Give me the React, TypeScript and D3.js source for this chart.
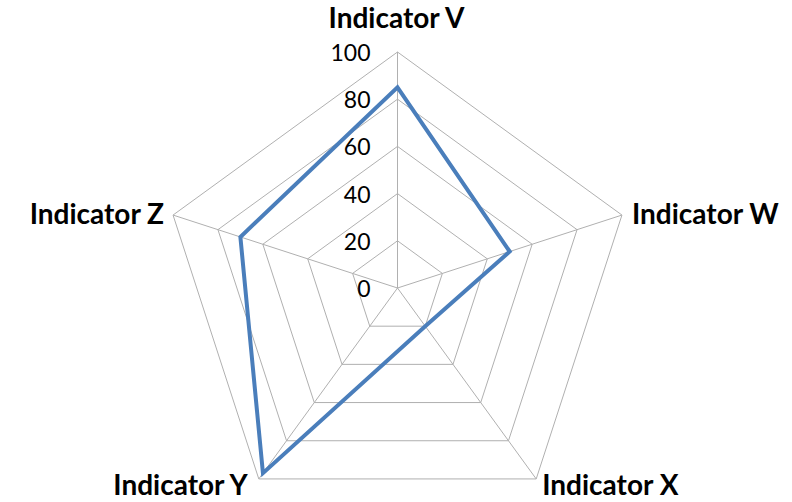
import React from "react";
import * as d3 from "d3";

const categories = ["Indicator V", "Indicator W", "Indicator X", "Indicator Y", "Indicator Z"];
const values = [85, 50, 20, 97, 70];
const ticks = [0, 20, 40, 60, 80, 100];

const W = 792;
const H = 502;
const cx = 397.5;
const cy = 288;
const R = 236;

export default function App() {
  const r = d3.scaleLinear().domain([0, 100]).range([0, R]);
  const angle = (i: number) => (i * 2 * Math.PI) / categories.length;
  const pt = (i: number, v: number): [number, number] => [
    cx + r(v) * Math.sin(angle(i)),
    cy - r(v) * Math.cos(angle(i)),
  ];
  const lineGen = d3.line<[number, number]>().curve(d3.curveLinearClosed);

  const gridPaths = ticks
    .filter((t) => t > 0)
    .map((t) => lineGen(categories.map((_, i) => pt(i, t))) as string);

  const dataPath = lineGen(values.map((v, i) => pt(i, v))) as string;

  const labelFont = "Lato, 'Open Sans', sans-serif";

  const labelPos = categories.map((c, i) => {
    const [x, y] = pt(i, 100);
    let anchor = "middle";
    let dx = 0;
    let dy = 0;
    if (i === 0) { dx = -1; dy = -24; }
    else if (i === 1) { anchor = "start"; dx = 10; dy = 9; }
    else if (i === 2) { anchor = "start"; dx = 6; dy = 16; }
    else if (i === 3) { anchor = "end"; dx = -11; dy = 16; }
    else { anchor = "end"; dx = -9; dy = 9; }
    return { c, x: x + dx, y: y + dy, anchor };
  });

  return (
    <svg width={W} height={H} style={{ position: "absolute", left: 0, top: 0, background: "#fff" }}>
      <g fill="none" stroke="#b0b0b0" strokeWidth={1}>
        {gridPaths.map((d, i) => (
          <path key={i} d={d} />
        ))}
        {categories.map((_, i) => {
          const [x, y] = pt(i, 100);
          return <line key={i} x1={cx} y1={cy} x2={x} y2={y} />;
        })}
      </g>
      <g fontFamily={labelFont} fontSize={23} fill="#000" textAnchor="end">
        {ticks.map((t) => (
          <text key={t} x={cx - 27} y={cy - r(t)} dominantBaseline="central">
            {t}
          </text>
        ))}
      </g>
      <path d={dataPath} fill="none" stroke="#4A7EBB" strokeWidth={4} strokeLinejoin="miter" />
      <g fontFamily={labelFont} fontSize={28} fontWeight="bold" fill="#000">
        {labelPos.map((l) => (
          <text key={l.c} x={l.x} y={l.y} textAnchor={l.anchor as any}>
            {l.c}
          </text>
        ))}
      </g>
    </svg>
  );
}
